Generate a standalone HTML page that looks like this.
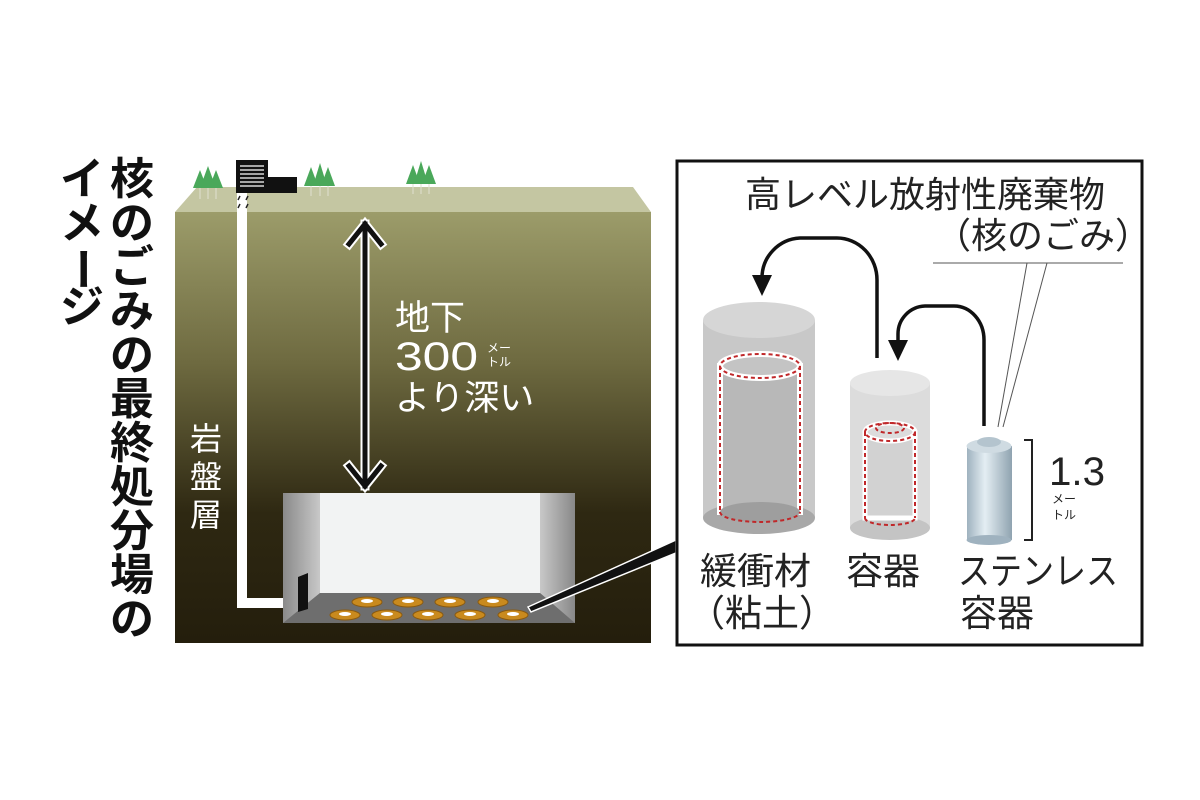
<!DOCTYPE html>
<html><head><meta charset="utf-8"><style>
html,body{margin:0;padding:0;background:#fff;}
svg{display:block;}
text{font-family:"Liberation Sans","Noto Sans CJK JP",sans-serif;}
</style></head><body>
<svg width="1200" height="800" viewBox="0 0 1200 800" xmlns="http://www.w3.org/2000/svg">
<defs>
<linearGradient id="ground" x1="0" y1="0" x2="0" y2="1">
<stop offset="0" stop-color="#9c9c6a"/>
<stop offset="0.35" stop-color="#6e6a40"/>
<stop offset="0.7" stop-color="#2e2812"/>
<stop offset="1" stop-color="#241e0c"/>
</linearGradient>
<linearGradient id="lw" x1="0" y1="0" x2="1" y2="0"><stop offset="0" stop-color="#8a8a8a"/><stop offset="1" stop-color="#c8c8c8"/></linearGradient>
<linearGradient id="rw" x1="0" y1="0" x2="1" y2="0"><stop offset="0" stop-color="#c8c8c8"/><stop offset="1" stop-color="#888"/></linearGradient>
<linearGradient id="steel" x1="0" y1="0" x2="1" y2="0"><stop offset="0" stop-color="#9fb2bf"/><stop offset="0.4" stop-color="#e4eef3"/><stop offset="1" stop-color="#8fa3b0"/></linearGradient>
</defs>

<g font-size="44" font-weight="bold" fill="#111" text-anchor="middle">
<text x="132" y="194">核</text><text x="132" y="238">の</text><text x="132" y="282">ご</text><text x="132" y="326">み</text><text x="132" y="370">の</text><text x="132" y="414">最</text><text x="132" y="458">終</text><text x="132" y="502">処</text><text x="132" y="546">分</text><text x="132" y="590">場</text><text x="132" y="634">の</text>
<text x="82" y="194">イ</text><text x="82" y="238">メ</text><text x="82" y="284" transform="rotate(90 82 269)">ー</text><text x="82" y="322">ジ</text>
</g>

<polygon points="175,212 197,187 633,187 651,212" fill="#c4c6a2"/>
<rect x="175" y="212" width="476" height="431" fill="url(#ground)"/>

<g fill="#4aa85a">
<polygon points="200,170 207,188 193,188"/><polygon points="208,166 216,188 200,188"/><polygon points="216,170 223,188 209,188"/>
<polygon points="311,167 318,186 304,186"/><polygon points="320,163 327,186 313,186"/><polygon points="328,167 335,186 321,186"/>
<polygon points="413,165 420,184 406,184"/><polygon points="421,161 428,184 414,184"/><polygon points="429,165 436,184 422,184"/>
</g>
<g stroke="#e0e0d0" stroke-width="1"><line x1="200" y1="188" x2="200" y2="199"/><line x1="208" y1="188" x2="208" y2="199"/><line x1="216" y1="188" x2="216" y2="199"/><line x1="311" y1="186" x2="311" y2="196"/><line x1="320" y1="186" x2="320" y2="196"/><line x1="328" y1="186" x2="328" y2="196"/><line x1="413" y1="184" x2="413" y2="194"/><line x1="421" y1="184" x2="421" y2="194"/><line x1="429" y1="184" x2="429" y2="194"/></g>

<rect x="236" y="160" width="32" height="33" fill="#111"/>
<rect x="268" y="177" width="29" height="16" fill="#111"/>
<g stroke="#fff" stroke-width="1.2"><line x1="240" y1="166" x2="264" y2="166"/><line x1="240" y1="170" x2="264" y2="170"/><line x1="240" y1="174" x2="264" y2="174"/><line x1="240" y1="178" x2="264" y2="178"/><line x1="240" y1="182" x2="264" y2="182"/><line x1="240" y1="186" x2="264" y2="186"/></g>

<path d="M242,193 L242,603 L290,603" fill="none" stroke="#fff" stroke-width="10"/>
<g stroke="#222" stroke-width="1.5"><line x1="238" y1="200" x2="240" y2="196"/><line x1="246" y1="200" x2="248" y2="196"/><line x1="238" y1="208" x2="240" y2="204"/><line x1="246" y1="208" x2="248" y2="204"/></g>

<rect x="283" y="493" width="292" height="130" fill="#9a9a9a"/>
<polygon points="283,493 320,493 320,593 283,623" fill="url(#lw)"/>
<polygon points="540,493 575,493 575,623 540,593" fill="url(#rw)"/>
<polygon points="320,593 540,593 575,623 283,623" fill="#6e6e6e"/>
<rect x="320" y="493" width="220" height="100" fill="#f2f3f3"/>
<polygon points="298,577 308,573 308,609 298,612" fill="#111"/>
<g fill="#c98a1e" stroke="#8a5a10" stroke-width="1">
<ellipse cx="367" cy="602" rx="15" ry="5"/><ellipse cx="408" cy="602" rx="15" ry="5"/><ellipse cx="450" cy="602" rx="15" ry="5"/><ellipse cx="493" cy="602" rx="15" ry="5"/>
<ellipse cx="345" cy="615" rx="15" ry="5"/><ellipse cx="387" cy="615" rx="15" ry="5"/><ellipse cx="428" cy="615" rx="15" ry="5"/><ellipse cx="470" cy="615" rx="15" ry="5"/><ellipse cx="513" cy="615" rx="15" ry="5"/>
</g>
<g fill="#fff"><ellipse cx="367" cy="601" rx="6" ry="2"/><ellipse cx="408" cy="601" rx="6" ry="2"/><ellipse cx="450" cy="601" rx="6" ry="2"/><ellipse cx="493" cy="601" rx="6" ry="2"/><ellipse cx="345" cy="614" rx="6" ry="2"/><ellipse cx="387" cy="614" rx="6" ry="2"/><ellipse cx="428" cy="614" rx="6" ry="2"/><ellipse cx="470" cy="614" rx="6" ry="2"/><ellipse cx="513" cy="614" rx="6" ry="2"/></g>

<polygon points="528,607 676,540 676,553 531,612" fill="#111" stroke="#fff" stroke-width="1.5"/>

<g fill="none" stroke-linecap="square">
<line x1="365" y1="224" x2="365" y2="486" stroke="#fff" stroke-width="9"/>
<polyline points="349,244 365,224 381,244" stroke="#fff" stroke-width="9"/>
<polyline points="349,466 365,486 381,466" stroke="#fff" stroke-width="9"/>
<line x1="365" y1="224" x2="365" y2="486" stroke="#111" stroke-width="5"/>
<polyline points="349,244 365,224 381,244" stroke="#111" stroke-width="5"/>
<polyline points="349,466 365,486 381,466" stroke="#111" stroke-width="5"/>
</g>
<g fill="#fff">
<text x="395" y="330" font-size="35">地下</text>
<text x="395" y="370" font-size="40" textLength="83" lengthAdjust="spacingAndGlyphs">300</text>
<text x="487" y="352" font-size="12">メー</text>
<text x="487" y="366" font-size="12">トル</text>
<text x="395" y="410" font-size="35">より深い</text>
</g>
<g fill="#fff" font-size="32" text-anchor="middle">
<text x="206" y="450">岩</text><text x="206" y="488">盤</text><text x="206" y="526">層</text>
</g>

<rect x="677" y="161" width="465" height="484" fill="#fff" stroke="#111" stroke-width="3"/>
<text x="745" y="207" font-size="36" fill="#222">高レベル放射性廃棄物</text>
<text x="935" y="248" font-size="36" fill="#222">（核のごみ）</text>
<polyline points="933,263 1123,263" stroke="#555" stroke-width="1" fill="none"/>
<line x1="1027" y1="263" x2="998" y2="427" stroke="#555" stroke-width="1"/>
<line x1="1047" y1="263" x2="1003" y2="427" stroke="#555" stroke-width="1"/>

<rect x="703" y="320" width="112" height="198" fill="#c8c8c8"/>
<ellipse cx="759" cy="518" rx="56" ry="16" fill="#a8a8a8"/>
<ellipse cx="759" cy="320" rx="56" ry="18" fill="#d6d6d6"/>
<rect x="720" y="366" width="80" height="146" fill="#b8b8b8" stroke="#fff" stroke-width="6"/>
<ellipse cx="760" cy="512" rx="40" ry="10" fill="#9e9e9e"/>
<ellipse cx="760" cy="366" rx="40" ry="12" fill="#c4c4c4" stroke="#fff" stroke-width="6"/>
<g fill="none" stroke="#c0282a" stroke-width="2" stroke-dasharray="4,3">
<ellipse cx="760" cy="366" rx="40" ry="12"/><line x1="720" y1="366" x2="720" y2="512"/><line x1="800" y1="366" x2="800" y2="512"/><path d="M720,512 A40,10 0 0 0 800,512"/>
</g>

<rect x="850" y="383" width="80" height="145" fill="#dcdcdc"/>
<ellipse cx="890" cy="528" rx="40" ry="12" fill="#c4c4c4"/>
<ellipse cx="890" cy="383" rx="40" ry="13" fill="#e6e6e6"/>
<rect x="865" y="433" width="50" height="85" fill="#d2d2d2" stroke="#fff" stroke-width="5"/>
<ellipse cx="890" cy="432" rx="25" ry="9" fill="#dcdcdc" stroke="#fff" stroke-width="5"/>
<g fill="none" stroke="#c0282a" stroke-width="2" stroke-dasharray="4,3">
<ellipse cx="890" cy="432" rx="25" ry="9"/><ellipse cx="890" cy="428" rx="14" ry="5"/><line x1="865" y1="432" x2="865" y2="518"/><line x1="915" y1="432" x2="915" y2="518"/><path d="M865,518 A25,7 0 0 0 915,518"/>
</g>

<rect x="967" y="446" width="45" height="94" fill="url(#steel)"/>
<ellipse cx="989" cy="540" rx="22.5" ry="5" fill="#9fb2bf"/>
<ellipse cx="989" cy="446" rx="22.5" ry="7" fill="#cfdbe2"/>
<ellipse cx="989" cy="442" rx="12" ry="5" fill="#b4c4ce"/>
<polyline points="1024,440 1032,440 1032,540 1024,540" fill="none" stroke="#222" stroke-width="2"/>
<text x="1049" y="485" font-size="40" fill="#222" textLength="56" lengthAdjust="spacingAndGlyphs">1.3</text>
<text x="1052" y="503" font-size="12" fill="#222">メー</text>
<text x="1052" y="519" font-size="12" fill="#222">トル</text>

<g fill="none" stroke="#111" stroke-width="3.5">
<path d="M877,358 L877,280 A40,42 0 0 0 837,238 L800,238 A40,40 0 0 0 762,278 L762,282"/>
<path d="M984,426 L984,340 A30,34 0 0 0 954,306 L925,306 A28,28 0 0 0 898,334 L898,345"/>
</g>
<polygon points="752,275 772,275 762,296" fill="#111"/>
<polygon points="888,340 908,340 898,361" fill="#111"/>

<g font-size="37" fill="#222">
<text x="700" y="584">緩衝材</text>
<text x="688" y="626">（粘土）</text>
<text x="846" y="584">容器</text>
<text x="958" y="584" textLength="160" lengthAdjust="spacingAndGlyphs">ステンレス</text>
<text x="960" y="626">容器</text>
</g>
</svg>
</body></html>
